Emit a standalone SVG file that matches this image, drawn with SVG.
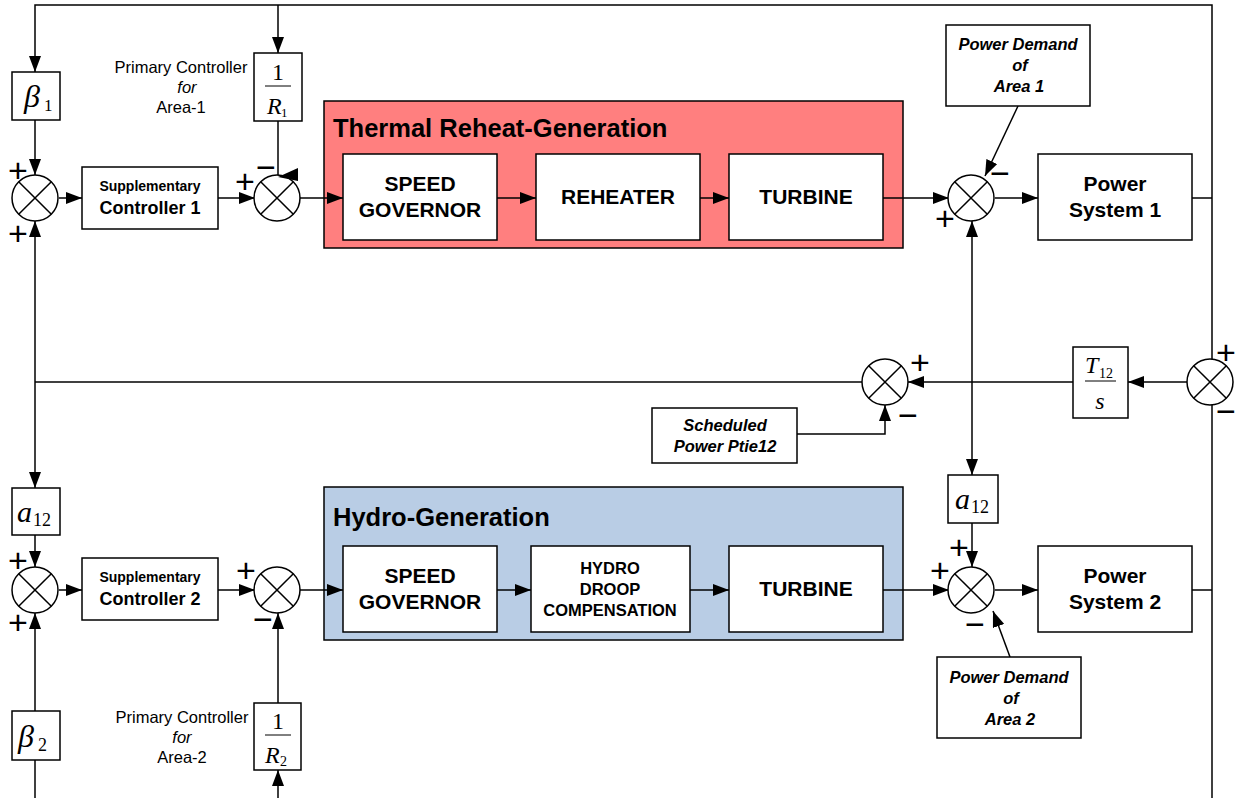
<svg xmlns="http://www.w3.org/2000/svg" xmlns:xlink="http://www.w3.org/1999/xlink" width="1244" height="798" viewBox="0 0 1244 798">
  <style>
    .ln { fill: none; stroke: #000; stroke-width: 1.5; }
    .box { fill: #fff; stroke: #000; stroke-width: 1.5; }
    .blk { font-family: "Liberation Sans", Arial, sans-serif; font-weight: bold; text-anchor: middle; fill: #000; }
    .ital { font-family: "Liberation Sans", Arial, sans-serif; font-weight: bold; font-style: italic; font-size: 16.5px; text-anchor: middle; fill: #000; }
    .note { font-family: "Liberation Sans", Arial, sans-serif; font-size: 16.5px; text-anchor: middle; fill: #000; }
    .math { font-family: "Liberation Serif", "Times New Roman", serif; fill: #000; }
    .sign { font-family: "Liberation Sans", Arial, sans-serif; font-size: 34px; text-anchor: middle; fill: #000; }
    .title { font-family: "Liberation Sans", Arial, sans-serif; font-weight: bold; font-size: 25.5px; fill: #000; }
  </style>
  <defs>
    <marker id="arr" viewBox="0 0 16 12" refX="16" refY="6" markerWidth="16" markerHeight="12" orient="auto" markerUnits="userSpaceOnUse">
      <path d="M0,0 L16,6 L0,12 z" fill="#000"/>
    </marker>
    <marker id="arrS" viewBox="0 0 16 12" refX="16" refY="6" markerWidth="16" markerHeight="12" orient="auto-start-reverse" markerUnits="userSpaceOnUse">
      <path d="M0,0 L16,6 L0,12 z" fill="#000"/>
    </marker>
    <g id="sumj">
      <circle r="23" fill="#fff" stroke="#000" stroke-width="1.5"/>
      <path d="M-16.3,-16.3 L16.3,16.3 M16.3,-16.3 L-16.3,16.3" stroke="#000" stroke-width="1.5"/>
    </g>
  </defs>

  <rect width="1244" height="798" fill="#fff"/>

  <!-- generation groups (backgrounds) -->
  <g id="thermal">
    <rect x="324" y="101" width="579" height="147" fill="#FF7F7F" stroke="#000" stroke-width="1.5"/>
    <text class="title" x="333" y="137">Thermal Reheat-Generation</text>
  </g>
  <g id="hydro">
    <rect x="324" y="487" width="579" height="153" fill="#B9CDE5" stroke="#000" stroke-width="1.5"/>
    <text class="title" x="333" y="526">Hydro-Generation</text>
  </g>

  <!-- connectors -->
  <g id="connectors" class="ln">
    <path d="M1212,359 V5 H35 V72" marker-end="url(#arr)"/>
    <path d="M278,5 V53" marker-end="url(#arr)"/>
    <path d="M35,120 V175" marker-end="url(#arr)"/>
    <path d="M59,198 H82" marker-end="url(#arr)"/>
    <path d="M218,198 H255" marker-end="url(#arr)"/>
    <path d="M278,121 V176"/>
    <path d="M300,198 H343" marker-end="url(#arr)"/>
    <path d="M497,198 H536" marker-end="url(#arr)"/>
    <path d="M700,198 H729" marker-end="url(#arr)"/>
    <path d="M883,198 H949" marker-end="url(#arr)"/>
    <path d="M1018,106 L985,176" marker-end="url(#arr)"/>
    <path d="M995,198 H1038" marker-end="url(#arr)"/>
    <path d="M1192,198 H1212"/>
    <path d="M972,221 V475" marker-start="url(#arrS)" marker-end="url(#arrS)"/>
    <path d="M1212,405 V798"/>
    <path d="M1187,382 H1128" marker-end="url(#arr)"/>
    <path d="M1073,382 H908" marker-end="url(#arr)"/>
    <path d="M862,382 H35"/>
    <path d="M35,382 V221" marker-end="url(#arr)"/>
    <path d="M35,382 V488" marker-end="url(#arr)"/>
    <path d="M797,434 H885 V405" marker-end="url(#arr)"/>
    <path d="M35,535 V567" marker-end="url(#arr)"/>
    <path d="M35,711 V613" marker-end="url(#arr)"/>
    <path d="M35,760 V798"/>
    <path d="M59,590 H82" marker-end="url(#arr)"/>
    <path d="M218,590 H255" marker-end="url(#arr)"/>
    <path d="M278,703 V613" marker-end="url(#arr)"/>
    <path d="M278,798 V770" marker-end="url(#arr)"/>
    <path d="M300,590 H343" marker-end="url(#arr)"/>
    <path d="M497,590 H531" marker-end="url(#arr)"/>
    <path d="M690,590 H729" marker-end="url(#arr)"/>
    <path d="M883,590 H949" marker-end="url(#arr)"/>
    <path d="M972,523 V567" marker-end="url(#arr)"/>
    <path d="M1010,657 L993,611" marker-end="url(#arr)"/>
    <path d="M995,590 H1038" marker-end="url(#arr)"/>
    <path d="M1192,590 H1212"/>
  </g>

  <!-- thermal chain -->
  <g id="governor1">
    <rect class="box" x="343" y="154" width="154" height="86"/>
    <text class="blk" font-size="21" x="420" y="191">SPEED</text>
    <text class="blk" font-size="21" x="420" y="217">GOVERNOR</text>
  </g>
  <g id="reheater">
    <rect class="box" x="536" y="154" width="164" height="86"/>
    <text class="blk" font-size="21" x="618" y="204">REHEATER</text>
  </g>
  <g id="turbine1">
    <rect class="box" x="729" y="154" width="154" height="86"/>
    <text class="blk" font-size="21" x="806" y="204">TURBINE</text>
  </g>

  <!-- hydro chain -->
  <g id="governor2">
    <rect class="box" x="343" y="546" width="154" height="86"/>
    <text class="blk" font-size="21" x="420" y="583">SPEED</text>
    <text class="blk" font-size="21" x="420" y="609">GOVERNOR</text>
  </g>
  <g id="droop">
    <rect class="box" x="531" y="546" width="159" height="86"/>
    <text class="blk" font-size="16.5" x="610" y="574">HYDRO</text>
    <text class="blk" font-size="16.5" x="610" y="595">DROOP</text>
    <text class="blk" font-size="16.5" x="610" y="616">COMPENSATION</text>
  </g>
  <g id="turbine2">
    <rect class="box" x="729" y="546" width="154" height="86"/>
    <text class="blk" font-size="21" x="806" y="596">TURBINE</text>
  </g>

  <!-- area 1 controllers -->
  <g id="beta1">
    <rect class="box" x="12" y="72" width="48" height="48"/>
    <text class="math" x="24" y="107" font-size="32" font-style="italic">β</text>
    <text class="math" x="44" y="111" font-size="17">1</text>
  </g>
  <g id="sum1" transform="translate(35,198)">
    <use xlink:href="#sumj"/>
    <text class="sign" x="-17" y="-16">+</text>
    <text class="sign" x="-17" y="47">+</text>
  </g>
  <g id="supp1">
    <rect class="box" x="82" y="167" width="136" height="62"/>
    <text class="blk" font-size="14" x="150" y="191">Supplementary</text>
    <text class="blk" font-size="18" x="150" y="214">Controller 1</text>
  </g>
  <g id="sum2" transform="translate(277,198)">
    <use xlink:href="#sumj"/>
    <text class="sign" x="-32" y="-5">+</text>
    <text class="sign" x="-11" y="-19">−</text>
    <!-- skewed head where the 1/R1 feedback meets this junction -->
    <polygon points="1,-21 21,-30 21,-17" fill="#000"/>
  </g>
  <g id="droopR1">
    <rect class="box" x="254" y="53" width="48" height="68"/>
    <text class="math" x="278" y="80" font-size="24" text-anchor="middle">1</text>
    <line x1="265" y1="86" x2="291" y2="86" stroke="#000" stroke-width="1"/>
    <text class="math" x="267" y="114" font-size="24" font-style="italic">R</text>
    <text class="math" x="281" y="117" font-size="13">1</text>
  </g>
  <g id="primary1">
    <text class="note" x="181" y="73">Primary Controller</text>
    <text class="note" x="187" y="93" font-style="italic">for</text>
    <text class="note" x="181" y="113">Area-1</text>
  </g>

  <!-- area 1 plant side -->
  <g id="sum3" transform="translate(971,198)">
    <use xlink:href="#sumj"/>
    <text class="sign" x="-26" y="32">+</text>
    <text class="sign" x="29" y="-13">−</text>
  </g>
  <g id="demand1">
    <rect class="box" x="946" y="25" width="144" height="81"/>
    <text class="ital" x="1018" y="50">Power Demand</text>
    <text class="ital" x="1020" y="71">of</text>
    <text class="ital" x="1019" y="92">Area 1</text>
  </g>
  <g id="power1">
    <rect class="box" x="1038" y="154" width="154" height="86"/>
    <text class="blk" font-size="21" x="1115" y="191">Power</text>
    <text class="blk" font-size="21" x="1115" y="217">System 1</text>
  </g>

  <!-- tie line -->
  <g id="sum6" transform="translate(1210,382)">
    <use xlink:href="#sumj"/>
    <text class="sign" x="16" y="-18">+</text>
    <text class="sign" x="16" y="41">−</text>
  </g>
  <g id="tie">
    <rect class="box" x="1073" y="347" width="55" height="71"/>
    <text class="math" x="1085" y="373" font-size="24" font-style="italic">T</text>
    <text class="math" x="1099" y="378" font-size="14">12</text>
    <line x1="1085" y1="381" x2="1116" y2="381" stroke="#000" stroke-width="1"/>
    <text class="math" x="1100" y="409" font-size="24" font-style="italic" text-anchor="middle">s</text>
  </g>
  <g id="sum7" transform="translate(885,382)">
    <use xlink:href="#sumj"/>
    <text class="sign" x="35" y="-8">+</text>
    <text class="sign" x="23" y="45">−</text>
  </g>
  <g id="scheduled">
    <rect class="box" x="652" y="408" width="145" height="55"/>
    <text class="ital" x="725" y="431">Scheduled</text>
    <text class="ital" x="725" y="452">Power Ptie12</text>
  </g>

  <!-- area 2 controllers -->
  <g id="a12left">
    <rect class="box" x="12" y="488" width="48" height="47"/>
    <text class="math" x="17" y="522" font-size="30" font-style="italic">a</text>
    <text class="math" x="33" y="526" font-size="18">12</text>
  </g>
  <g id="sum4" transform="translate(35,590)">
    <use xlink:href="#sumj"/>
    <text class="sign" x="-17" y="-18">+</text>
    <text class="sign" x="-17" y="44">+</text>
  </g>
  <g id="supp2">
    <rect class="box" x="82" y="558" width="136" height="62"/>
    <text class="blk" font-size="14" x="150" y="582">Supplementary</text>
    <text class="blk" font-size="18" x="150" y="605">Controller 2</text>
  </g>
  <g id="sum5" transform="translate(277,590)">
    <use xlink:href="#sumj"/>
    <text class="sign" x="-31" y="-8">+</text>
    <text class="sign" x="-14" y="41">−</text>
  </g>
  <g id="beta2">
    <rect class="box" x="12" y="711" width="48" height="49"/>
    <text class="math" x="18" y="747" font-size="32" font-style="italic">β</text>
    <text class="math" x="38" y="751" font-size="18">2</text>
  </g>
  <g id="droopR2">
    <rect class="box" x="254" y="703" width="47" height="67"/>
    <text class="math" x="278" y="729" font-size="24" text-anchor="middle">1</text>
    <line x1="265" y1="735" x2="291" y2="735" stroke="#000" stroke-width="1"/>
    <text class="math" x="265" y="763" font-size="24" font-style="italic">R</text>
    <text class="math" x="280" y="766" font-size="14">2</text>
  </g>
  <g id="primary2">
    <text class="note" x="182" y="723">Primary Controller</text>
    <text class="note" x="182" y="743" font-style="italic">for</text>
    <text class="note" x="182" y="763">Area-2</text>
  </g>

  <!-- area 2 plant side -->
  <g id="a12right">
    <rect class="box" x="948" y="475" width="50" height="48"/>
    <text class="math" x="955" y="509" font-size="30" font-style="italic">a</text>
    <text class="math" x="971" y="513" font-size="18">12</text>
  </g>
  <g id="sum8" transform="translate(971,590)">
    <use xlink:href="#sumj"/>
    <text class="sign" x="-12" y="-31" font-size="29">+</text>
    <text class="sign" x="-31" y="-8" font-size="29">+</text>
    <text class="sign" x="4" y="46">−</text>
  </g>
  <g id="demand2">
    <rect class="box" x="937" y="657" width="144" height="81"/>
    <text class="ital" x="1009" y="683">Power Demand</text>
    <text class="ital" x="1011" y="704">of</text>
    <text class="ital" x="1010" y="725">Area 2</text>
  </g>
  <g id="power2">
    <rect class="box" x="1038" y="546" width="154" height="86"/>
    <text class="blk" font-size="21" x="1115" y="583">Power</text>
    <text class="blk" font-size="21" x="1115" y="609">System 2</text>
  </g>
</svg>
